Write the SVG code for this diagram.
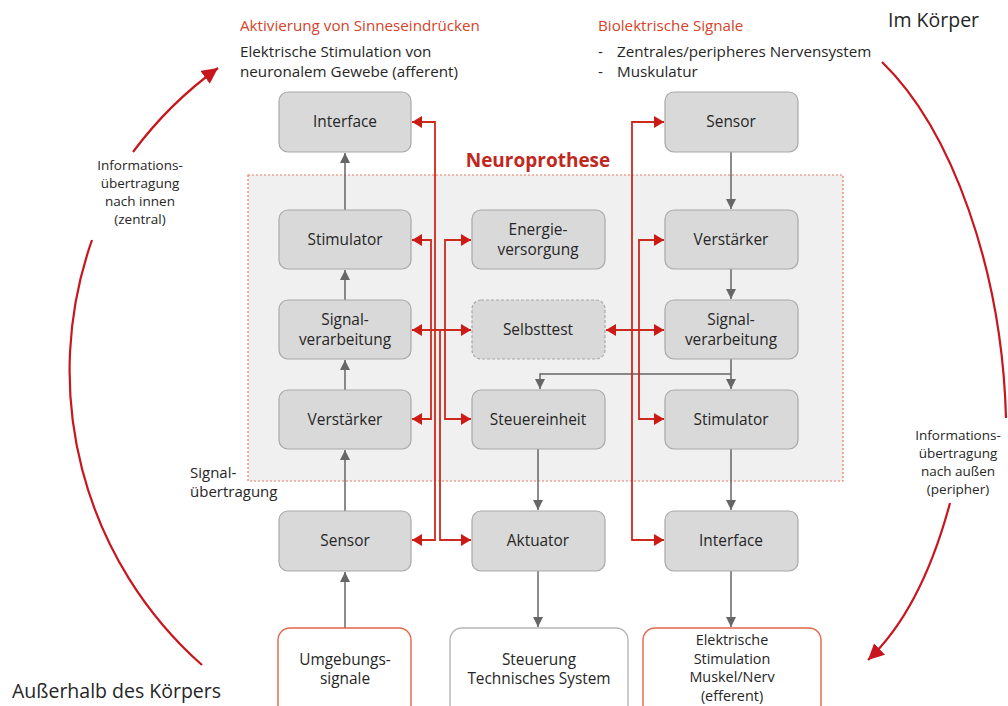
<svg xmlns="http://www.w3.org/2000/svg" width="1008" height="706" viewBox="0 0 1008 706">
<defs>
<style>
text{font-family:"Open Sans","Noto Sans","DejaVu Sans",sans-serif;fill:#262626}
.n{fill:#d9d9d9;stroke:#a8a8a8;stroke-width:1.2}
.nt{font-size:15.4px;text-anchor:middle}
.ns{font-size:14.4px;text-anchor:middle}
.o{fill:#fff;stroke:#e0664a;stroke-width:1.4}
.g{fill:#fff;stroke:#b5b5b5;stroke-width:1.4}
.hd{font-size:15.2px;fill:#d4442a}
.tx{font-size:15.2px}
.sm{font-size:13.5px;text-anchor:middle}
.gc{fill:none;stroke:#666;stroke-width:1.5;marker-end:url(#ga)}
.rc{fill:none;stroke:#cc2a1e;stroke-width:1.8;marker-end:url(#ra)}
.rd{fill:none;stroke:#cc2a1e;stroke-width:1.8;marker-end:url(#ra);marker-start:url(#ra)}
.arc{fill:none;stroke:#c8161e;stroke-width:2.2}
</style>
<marker id="ga" markerWidth="12" markerHeight="10" refX="10" refY="5" orient="auto-start-reverse" markerUnits="userSpaceOnUse"><path d="M0,0 L10,5 L0,10 Z" fill="#666"/></marker>
<marker id="ra" markerWidth="12" markerHeight="12" refX="10" refY="6" orient="auto-start-reverse" markerUnits="userSpaceOnUse"><path d="M0,0 L10,6 L0,12 Z" fill="#cc1a14"/></marker>
<marker id="aa" markerWidth="18" markerHeight="16" refX="16" refY="8" orient="auto" markerUnits="userSpaceOnUse"><path d="M0,0 L16,8 L0,16 Z" fill="#c8161e"/></marker>
</defs>
<rect width="1008" height="706" fill="#fff"/>

<g id="headers">
<text x="240" y="31" class="hd">Aktivierung von Sinneseindrücken</text>
<text x="240" y="57" class="tx">Elektrische Stimulation von</text>
<text x="240" y="77" class="tx">neuronalem Gewebe (afferent)</text>
<text x="598" y="31" class="hd">Biolektrische Signale</text>
<text x="598" y="57" class="tx">-</text>
<text x="617" y="57" class="tx">Zentrales/peripheres Nervensystem</text>
<text x="598" y="77" class="tx">-</text>
<text x="617" y="77" class="tx">Muskulatur</text>
<text x="888" y="27" style="font-size:19.5px">Im Körper</text>
<text x="12" y="698" style="font-size:19.5px">Außerhalb des Körpers</text>
</g>

<g id="neuroprothese">
<rect x="248" y="175" width="595" height="306" fill="#f0f0f0" stroke="#e87a62" stroke-width="1.2" stroke-dasharray="2,2"/>
<text x="538" y="167" style="font-size:19px;font-weight:bold;fill:#c0281e;text-anchor:middle">Neuroprothese</text>
</g>

<g id="side-labels">
<text x="140" y="170" class="sm">Informations-</text>
<text x="140" y="188" class="sm">übertragung</text>
<text x="140" y="206" class="sm">nach innen</text>
<text x="140" y="224" class="sm">(zentral)</text>
<text x="958" y="440" class="sm">Informations-</text>
<text x="958" y="458" class="sm">übertragung</text>
<text x="958" y="476" class="sm">nach außen</text>
<text x="958" y="494" class="sm">(peripher)</text>
<text x="190" y="478" style="font-size:15px">Signal-</text>
<text x="190" y="497" style="font-size:15px">übertragung</text>
</g>

<g id="connectors">
<path class="arc" d="M92,240 A393,393 0 0 0 202,665"/>
<path class="arc" d="M133,152 A393,393 0 0 1 218,68" marker-end="url(#aa)"/>
<path class="arc" d="M882,62 C952,130 1002,270 1006,418"/>
<path class="arc" d="M950,503 C932,570 905,625 868,660" marker-end="url(#aa)"/>

<path class="gc" d="M345,628 V572"/>
<path class="gc" d="M345,511 V450"/>
<path class="gc" d="M345,390 V360"/>
<path class="gc" d="M345,300 V270"/>
<path class="gc" d="M345,210 V153"/>
<path class="gc" d="M731,152 V209"/>
<path class="gc" d="M731,269 V299"/>
<path class="gc" d="M731,359 V389"/>
<path class="gc" d="M731,374 H540 V389"/>
<path class="gc" d="M731,449 V510"/>
<path class="gc" d="M731,571 V627"/>
<path class="gc" d="M538,449 V510"/>
<path class="gc" d="M538,571 V627"/>

<path class="rc" d="M435,330 V122 H412"/>
<path class="rc" d="M435,330 V540 H412"/>
<path class="rc" d="M431,330 V240 H412"/>
<path class="rc" d="M431,330 V419 H412"/>
<path class="rc" d="M445,330 V240 H471"/>
<path class="rc" d="M445,330 V419 H471"/>
<path class="rc" d="M440,330 V540 H471"/>
<path class="rd" d="M412,330 H471"/>
<path class="rd" d="M606,330 H664"/>
<path class="rc" d="M632,330 V122 H664"/>
<path class="rc" d="M632,330 V540 H664"/>
<path class="rc" d="M639,330 V240 H664"/>
<path class="rc" d="M639,330 V419 H664"/>
</g>

<g id="l-interface"><rect class="n" x="279" y="92" width="132" height="60" rx="9"/><text class="nt" x="345" y="127">Interface</text></g>
<g id="l-stimulator"><rect class="n" x="279" y="210" width="132" height="59" rx="9"/><text class="nt" x="345" y="245">Stimulator</text></g>
<g id="l-signal"><rect class="n" x="279" y="300" width="132" height="59" rx="9"/><text class="nt" x="345" y="325">Signal-</text><text class="nt" x="345" y="345">verarbeitung</text></g>
<g id="l-verstaerker"><rect class="n" x="279" y="390" width="132" height="59" rx="9"/><text class="nt" x="345" y="425">Verstärker</text></g>
<g id="l-sensor"><rect class="n" x="279" y="511" width="132" height="60" rx="9"/><text class="nt" x="345" y="546">Sensor</text></g>

<g id="c-energie"><rect class="n" x="472" y="210" width="133" height="59" rx="9"/><text class="nt" x="538" y="235">Energie-</text><text class="nt" x="538" y="255">versorgung</text></g>
<g id="c-selbsttest"><rect class="n" x="472" y="300" width="133" height="59" rx="9" stroke-dasharray="3,2"/><text class="nt" x="538" y="335">Selbsttest</text></g>
<g id="c-steuereinheit"><rect class="n" x="472" y="390" width="133" height="59" rx="9"/><text class="nt" x="538" y="425">Steuereinheit</text></g>
<g id="c-aktuator"><rect class="n" x="472" y="511" width="133" height="60" rx="9"/><text class="nt" x="538" y="546">Aktuator</text></g>

<g id="r-sensor"><rect class="n" x="665" y="92" width="133" height="60" rx="9"/><text class="nt" x="731" y="127">Sensor</text></g>
<g id="r-verstaerker"><rect class="n" x="665" y="210" width="133" height="59" rx="9"/><text class="nt" x="731" y="245">Verstärker</text></g>
<g id="r-signal"><rect class="n" x="665" y="300" width="133" height="59" rx="9"/><text class="nt" x="731" y="325">Signal-</text><text class="nt" x="731" y="345">verarbeitung</text></g>
<g id="r-stimulator"><rect class="n" x="665" y="390" width="133" height="59" rx="9"/><text class="nt" x="731" y="425">Stimulator</text></g>
<g id="r-interface"><rect class="n" x="665" y="511" width="133" height="60" rx="9"/><text class="nt" x="731" y="546">Interface</text></g>

<g id="b-umgebung"><rect class="o" x="278" y="628" width="133" height="90" rx="12"/><text class="nt" x="345" y="665">Umgebungs-</text><text class="nt" x="345" y="684">signale</text></g>
<g id="b-steuerung"><rect class="g" x="450" y="628" width="178" height="90" rx="12"/><text class="nt" x="539" y="665">Steuerung</text><text class="nt" x="539" y="684">Technisches System</text></g>
<g id="b-stimulation"><rect class="o" x="643" y="628" width="178" height="90" rx="12"/><text class="ns" x="732" y="645">Elektrische</text><text class="ns" x="732" y="663.5">Stimulation</text><text class="ns" x="732" y="682">Muskel/Nerv</text><text class="ns" x="732" y="700.5">(efferent)</text></g>
</svg>
